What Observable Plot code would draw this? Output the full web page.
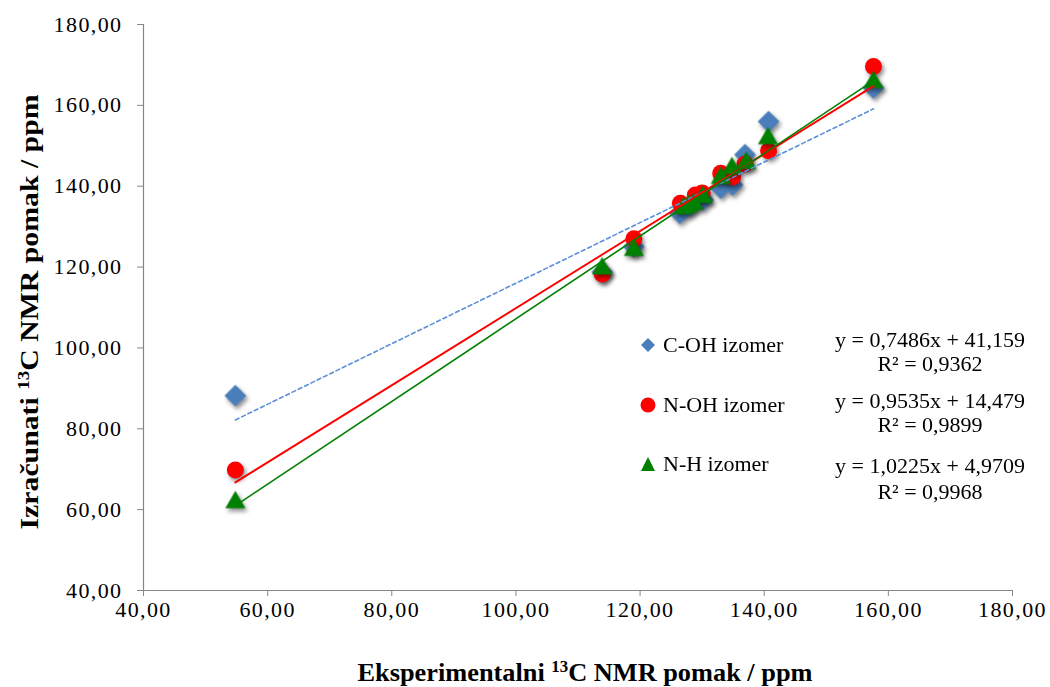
<!DOCTYPE html>
<html>
<head>
<meta charset="utf-8">
<script src="https://cdn.jsdelivr.net/npm/d3@7"></script>
<script src="https://cdn.jsdelivr.net/npm/@observablehq/plot@0.6"></script>
<style>
  html, body { margin: 0; padding: 0; background: #fff; }
  #wrap { position: relative; width: 1050px; height: 687px; font-family: "Liberation Serif", "Times New Roman", serif; }
  #wrap svg, #wrap svg text { font-family: "Liberation Serif", "Times New Roman", serif !important; }
  #wrap svg g[aria-label$="tick label"] text { letter-spacing: 1.4px; }
  .shadow { filter: drop-shadow(2px 3px 2px rgba(0,0,0,0.45)); }
  .leg { position: absolute; font-size: 22px; color: #000; white-space: nowrap; }
  .eq { position: absolute; font-size: 22px; color: #000; text-align: center; width: 240px; line-height: 24px; }
</style>
</head>
<body>
<div id="wrap"></div>
<script>
// ---- data ----
const series = ["C-OH izomer", "N-OH izomer", "N-H izomer"];
const cohX = [54.8, 113.9, 119.0, 126.4, 127.2, 128.0, 130.2, 133.0, 134.9, 136.9, 140.7, 157.6];
const cohY = [88.2, 118.8, 125.0, 133.3, 134.3, 135.0, 136.6, 139.5, 140.3, 147.8, 156.0, 164.3];
const nohX = [54.8, 113.9, 119.0, 126.5, 128.9, 130.0, 133.0, 134.9, 136.9, 140.7, 157.6];
const nohY = [69.8, 118.3, 127.0, 135.8, 137.8, 138.3, 143.2, 142.3, 145.5, 148.8, 169.6];
const nhX = [54.8, 113.9, 119.0, 127.0, 127.8, 128.6, 130.1, 133.0, 134.8, 137.1, 140.6, 157.6];
const nhY = [61.8, 119.6, 124.2, 134.5, 135.0, 135.6, 137.3, 142.0, 144.4, 145.7, 151.8, 165.7];
const slopes = [0.7486, 0.9535, 1.0225];
const intercepts = [41.159, 14.479, 4.9709];
const r2 = ["0,9362", "0,9899", "0,9968"];
const xTicks = [40, 60, 80, 100, 120, 140, 160, 180];
const yTicks = [40, 60, 80, 100, 120, 140, 160, 180];
const colors = ["#4A7EBB", "#FF0000", "#008000"];
const lineColors = ["#5B8FDA", "#FF0000", "#008000"];

const toPts = (xs, ys) => xs.map((x, i) => ({x, y: ys[i]}));
const coh = toPts(cohX, cohY), noh = toPts(nohX, nohY), nh = toPts(nhX, nhY);
const all = [cohX, nohX, nhX];
const trend = (k) => {
  const xs = all[k];
  const lo = d3.min(xs), hi = d3.max(xs);
  return [lo, hi].map(x => ({x, y: slopes[k] * x + intercepts[k]}));
};
const fmt = d => d.toFixed(2).replace(".", ",");

const chart = Plot.plot({
  width: 1050,
  height: 687,
  marginLeft: 143,
  marginRight: 38,
  marginTop: 24,
  marginBottom: 97,
  style: { fontFamily: "'Liberation Serif', 'Times New Roman', serif", fontSize: "22px", color: "#000", background: "#fff" },
  x: { domain: [40, 180], ticks: xTicks, tickFormat: fmt, label: null },
  y: { domain: [40, 180], ticks: yTicks, tickFormat: fmt, label: null },
  marks: [
    Plot.axisX({ ticks: xTicks, tickFormat: fmt, tickSize: 6, tickPadding: 5, stroke: "#878787", fill: "#000", fontSize: 22, label: null }),
    Plot.axisY({ ticks: yTicks, tickFormat: fmt, tickSize: 6, tickPadding: 15, stroke: "#878787", fill: "#000", fontSize: 22, label: null }),
    Plot.ruleX([40], { stroke: "#878787", strokeWidth: 1.2 }),
    Plot.ruleY([40], { stroke: "#878787", strokeWidth: 1.2 }),
    Plot.dot(coh, { x: "x", y: "y", symbol: "diamond2", r: 9.8, fill: colors[0], stroke: "none", className: "shadow" }),
    Plot.dot(noh, { x: "x", y: "y", symbol: "circle", r: 8.5, fill: colors[1], stroke: "none", className: "shadow" }),
    Plot.dot(nh, { x: "x", y: "y", symbol: "triangle2", r: 9.6, fill: colors[2], stroke: "none", className: "shadow" }),
    Plot.line(trend(0), { x: "x", y: "y", stroke: lineColors[0], strokeWidth: 1.6, strokeDasharray: "4,3" }),
    Plot.line(trend(1), { x: "x", y: "y", stroke: lineColors[1], strokeWidth: 2 }),
    Plot.line(trend(2), { x: "x", y: "y", stroke: lineColors[2], strokeWidth: 1.6 })
  ]
});

const wrap = document.getElementById("wrap");
wrap.appendChild(chart);

// axis titles with superscripts
const svg = d3.select(chart);
const xt = svg.append("text")
  .attr("x", 585).attr("y", 681)
  .attr("text-anchor", "middle")
  .attr("textLength", 455).attr("lengthAdjust", "spacingAndGlyphs")
  .attr("font-weight", "bold").attr("font-size", 25).attr("fill", "#000");
xt.append("tspan").text("Eksperimentalni ");
xt.append("tspan").attr("font-size", 16).attr("dy", -9).text("13");
xt.append("tspan").attr("dy", 9).text("C NMR pomak / ppm");

const yt = svg.append("text")
  .attr("transform", "translate(38,312) rotate(-90)")
  .attr("text-anchor", "middle")
  .attr("textLength", 435).attr("lengthAdjust", "spacingAndGlyphs")
  .attr("font-weight", "bold").attr("font-size", 25).attr("fill", "#000");
yt.append("tspan").text("Izračunati ");
yt.append("tspan").attr("font-size", 16).attr("dy", -9).text("13");
yt.append("tspan").attr("dy", 9).text("C NMR pomak / ppm");

// legend (overlay)
const legendMarkers = [
  '<svg width="16" height="16" style="vertical-align:middle"><path d="M8 1 L15 8 L8 15 L1 8 Z" fill="' + colors[0] + '"/></svg>',
  '<svg width="16" height="16" style="vertical-align:middle"><circle cx="8" cy="8" r="7.5" fill="' + colors[1] + '"/></svg>',
  '<svg width="16" height="16" style="vertical-align:middle"><path d="M8 1 L15 15 L1 15 Z" fill="' + colors[2] + '"/></svg>'
];
const legTops = [330, 390, 449];
const eqTops = [328, 389, 453];
series.forEach((s, i) => {
  const d = document.createElement("div");
  d.className = "leg";
  d.style.left = "640px";
  d.style.top = legTops[i] + "px";
  d.innerHTML = legendMarkers[i] + '<span style="margin-left:7px;vertical-align:middle">' + s + '</span>';
  wrap.appendChild(d);
  const e = document.createElement("div");
  e.className = "eq";
  e.style.left = "810px";
  e.style.top = eqTops[i] + "px";
  const b = String(intercepts[i]).replace(".", ",");
  const a = String(slopes[i]).replace(".", ",");
  e.innerHTML = "y = " + a + "x + " + b + "<br>R² = " + r2[i];
  if (i === 2) e.style.lineHeight = "26px";
  wrap.appendChild(e);
});
</script>
</body>
</html>
